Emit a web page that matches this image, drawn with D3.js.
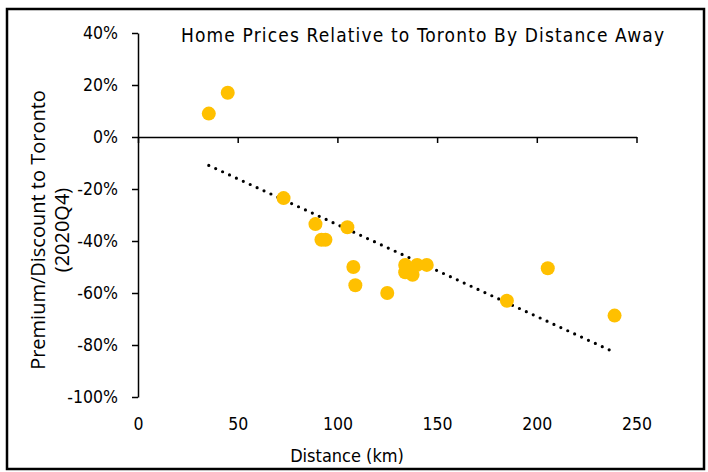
<!DOCTYPE html>
<html>
<head>
<meta charset="utf-8">
<script src="https://cdn.jsdelivr.net/npm/d3@7"></script>
<style>
  html, body { margin: 0; padding: 0; background: #fff; }
  svg { display: block; }
  text { font-family: "DejaVu Sans Condensed", "DejaVu Sans", sans-serif; fill: #000; }
</style>
</head>
<body>
<svg id="chart" width="708" height="472"></svg>
<script>
// Distance from Toronto (km) and 2020Q4 home-price premium/discount (%)
const distanceKm = [35.5, 45, 73, 89, 92, 94, 105, 108, 109, 125, 134, 134, 137.7, 140, 144.8, 185, 205.5, 239];
const premiumPct = [9, 17, -23.5, -33.5, -39.5, -39.5, -34.7, -50, -57, -60, -49.2, -52, -53, -49.2, -49.2, -63, -50.5, -68.7];

const xTicks = [0, 50, 100, 150, 200, 250];
const yTicks = [40, 20, 0, -20, -40, -60, -80, -100];

const titleText = "Home Prices Relative to Toronto By Distance Away";
const xTitle = "Distance (km)";
const yTitleLines = ["Premium/Discount to Toronto", "(2020Q4)"];

const svg = d3.select("#chart");

// outer frame
svg.append("rect")
  .attr("x", 7).attr("y", 9).attr("width", 697).attr("height", 460)
  .attr("fill", "none").attr("stroke", "#000").attr("stroke-width", 2.5);

const x = d3.scaleLinear().domain([0, 250]).range([138, 636.5]);
const y = d3.scaleLinear().domain([-100, 40]).range([397, 33]);

// y axis with ticks pointing outward
const yAxis = svg.append("g")
  .attr("transform", `translate(${x(0)},0)`)
  .call(d3.axisLeft(y).tickValues(yTicks).tickFormat(d => d + "%")
    .tickSize(6).tickSizeOuter(0).tickPadding(14));
yAxis.select(".domain").attr("stroke-width", 1.5);
yAxis.selectAll(".tick line").attr("stroke-width", 1.5);
yAxis.selectAll(".tick text")
  .attr("font-size", 17.5)
  .style("font-family", '"DejaVu Sans Condensed", sans-serif');

// x axis line sits at 0%, ticks drop below it
const xAxis = svg.append("g")
  .attr("transform", `translate(0,${y(0)})`)
  .call(d3.axisBottom(x).tickValues(xTicks).tickFormat("")
    .tickSize(6).tickSizeOuter(0));
xAxis.select(".domain").attr("stroke-width", 1.5);
xAxis.selectAll(".tick line").attr("stroke-width", 1.5);

// x tick labels placed at the bottom of the plot
const xLabels = svg.append("g")
  .attr("transform", `translate(0,${y(-100)})`)
  .call(d3.axisBottom(x).tickValues(xTicks).tickSize(0).tickPadding(21));
xLabels.select(".domain").remove();
xLabels.selectAll(".tick text")
  .attr("font-size", 17.5)
  .style("font-family", '"DejaVu Sans Condensed", sans-serif');

// least-squares trend line over the data range
const mx = d3.mean(distanceKm), my = d3.mean(premiumPct);
let sxy = 0, sxx = 0;
distanceKm.forEach((d, i) => { sxy += (d - mx) * (premiumPct[i] - my); sxx += (d - mx) * (d - mx); });
const slope = sxy / sxx, intercept = my - slope * mx;
const [x0, x1] = d3.extent(distanceKm);
const trend = [[x0, intercept + slope * x0], [x1, intercept + slope * x1]];

svg.append("path")
  .attr("d", d3.line().x(d => x(d[0])).y(d => y(d[1]))(trend))
  .attr("fill", "none").attr("stroke", "#000")
  .attr("stroke-width", 3.2).attr("stroke-linecap", "round")
  .attr("stroke-dasharray", "0 7.6");

// data points
svg.append("g").selectAll("circle")
  .data(distanceKm.map((d, i) => [d, premiumPct[i]]))
  .join("circle")
  .attr("cx", d => x(d[0])).attr("cy", d => y(d[1]))
  .attr("r", 7).attr("fill", "#FFC000");

// titles
svg.append("text")
  .attr("x", 181).attr("y", 42)
  .attr("font-size", 19)
  .attr("textLength", 483).attr("lengthAdjust", "spacing")
  .style("font-family", '"DejaVu Sans Condensed", sans-serif')
  .text(titleText);

svg.append("text")
  .attr("x", 347).attr("y", 462)
  .attr("text-anchor", "middle").attr("font-size", 18)
  .text(xTitle);

const yt = svg.append("text")
  .attr("transform", "translate(45,230) rotate(-90)")
  .attr("text-anchor", "middle").attr("font-size", 20)
  .style("font-family", '"Open Sans", sans-serif');
yTitleLines.forEach((t, i) => {
  yt.append("tspan").attr("x", 0).attr("dy", i === 0 ? 0 : 24).text(t);
});
</script>
</body>
</html>
